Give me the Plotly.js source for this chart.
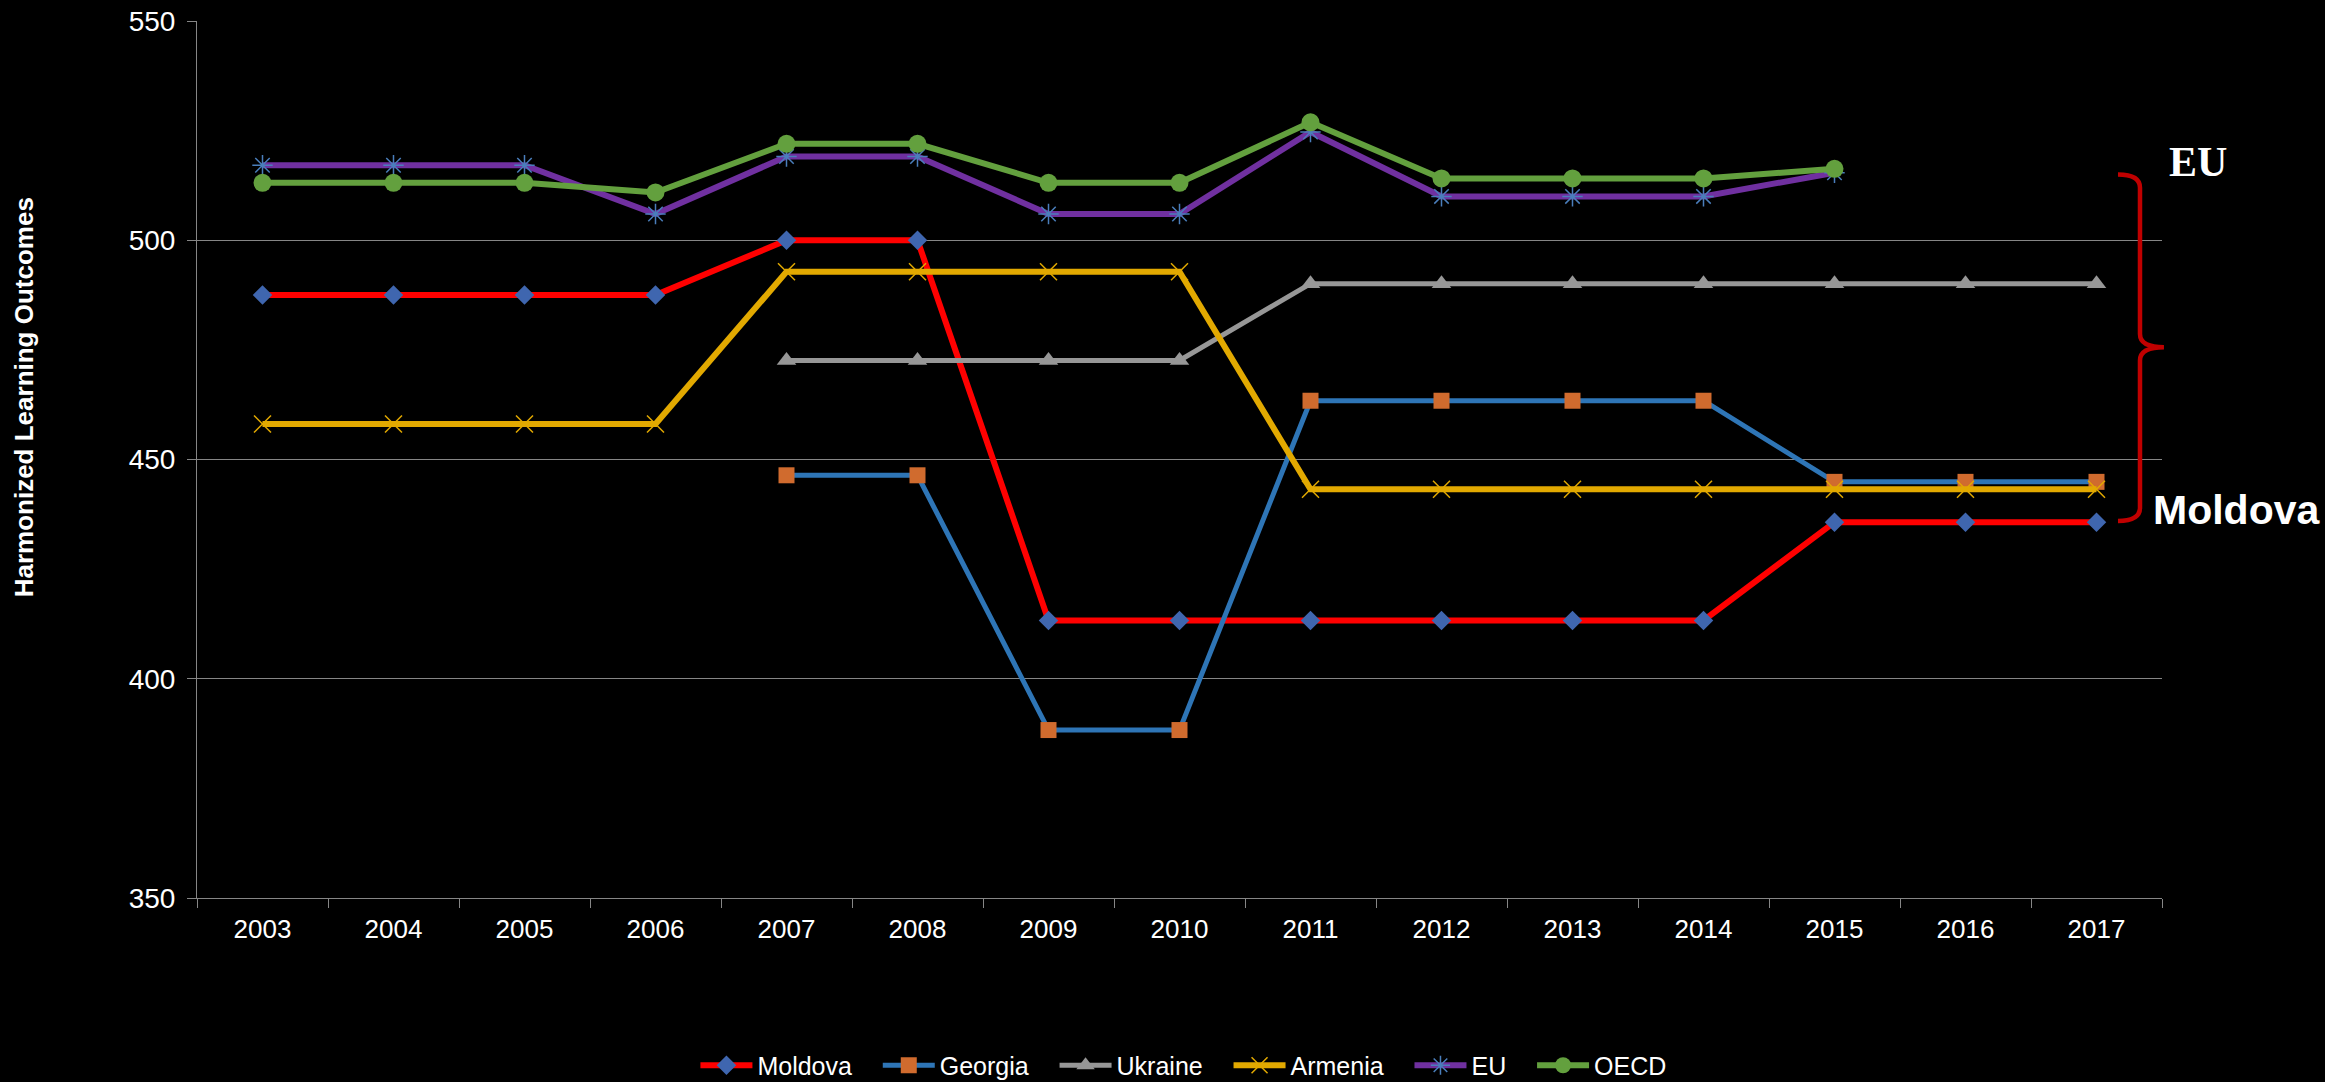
<!DOCTYPE html>
<html>
<head>
<meta charset="utf-8">
<script src="https://cdn.plot.ly/plotly-3.0.1.min.js"></script>
<style>
  html, body { margin: 0; padding: 0; background: #000000; }
  #chart { width: 2325px; height: 1082px; }
</style>
</head>
<body>
<div id="chart"></div>
<script>
const years = ['2003','2004','2005','2006','2007','2008','2009','2010','2011','2012','2013','2014','2015','2016','2017'];
const moldova = [487.5,487.5,487.5,487.5,500,500,413.3,413.3,413.3,413.3,413.3,413.3,435.7,435.7,435.7];
const georgia = [null,null,null,null,446.4,446.4,388.3,388.3,463.4,463.4,463.4,463.4,444.9,444.9,444.9];
const ukraine = [null,null,null,null,472.6,472.6,472.6,472.6,490.1,490.1,490.1,490.1,490.1,490.1,490.1];
const armenia = [458.1,458.1,458.1,458.1,492.8,492.8,492.8,492.8,443.2,443.2,443.2,443.2,443.2,443.2,443.2];
const eu      = [517.1,517.1,517.1,506.0,519.1,519.1,506.0,506.0,524.7,510.0,510.0,510.0,515.4,null,null];
const oecd    = [513.1,513.1,513.1,510.9,522.0,522.0,513.1,513.1,526.9,514.1,514.1,514.1,516.3,null,null];
const seriesNames = ['Moldova','Georgia','Ukraine','Armenia','EU','OECD'];
const yTicks  = [350, 400, 450, 500, 550];
const yTitle  = 'Harmonized Learning Outcomes';
const bracketTop = 515, bracketMid = 475.6, bracketBottom = 436;

const FONT = '"Liberation Sans", Arial, sans-serif';
const PAD = '\u00A0\u00A0\u00A0';

function tr(i, y, lineColor, lw, symbol, msize, mcolor, mline, mlw) {
  const nm = seriesNames[i] + (i < seriesNames.length - 1 ? PAD : '');
  return {
    type: 'scatter', mode: 'lines+markers', name: nm, x: years, y: y,
    connectgaps: false,
    line: {color: lineColor, width: lw},
    marker: {symbol: symbol, size: msize, color: mcolor,
             line: {color: mline, width: mlw}}
  };
}

const data = [
  tr(0, moldova, '#FF0000', 6, 'diamond', 15, '#3F66AF', '#3F66AF', 0),
  tr(1, georgia, '#2E75B6', 5, 'square', 16, '#D06B2E', '#D06B2E', 0),
  tr(2, ukraine, '#979797', 5, 'triangle-up', 17, '#979797', '#979797', 0),
  tr(3, armenia, '#E2A900', 6, 'x-thin-open', 17, '#E2A900', '#E2A900', 1.5),
  tr(4, eu, '#7030A0', 6, 'asterisk-open', 17, '#4A7EBB', '#4A7EBB', 1.5),
  tr(5, oecd, '#63A03E', 6, 'circle', 18, '#63A03E', '#63A03E', 0)
];

const bx0 = 0.9776, bx1 = 0.9888, bx2 = 1.0010;
const bracketPath =
  `M ${bx0},${bracketTop} Q ${bx1},${bracketTop} ${bx1},${bracketTop-3} ` +
  `L ${bx1},${bracketMid+3} Q ${bx1},${bracketMid} ${bx2},${bracketMid} ` +
  `Q ${bx1},${bracketMid} ${bx1},${bracketMid-3} ` +
  `L ${bx1},${bracketBottom+3} Q ${bx1},${bracketBottom} ${bx0},${bracketBottom}`;

const layout = {
  width: 2325, height: 1082,
  paper_bgcolor: '#000000', plot_bgcolor: '#000000',
  margin: {l: 197, r: 163, t: 21, b: 184, autoexpand: false},
  font: {family: FONT, color: '#FFFFFF'},
  showlegend: true,
  legend: {
    orientation: 'h', x: 0.502, xanchor: 'center', y: -0.191, yanchor: 'middle',
    font: {family: FONT, size: 25, color: '#FFFFFF'},
    itemwidth: 52, bgcolor: 'rgba(0,0,0,0)', traceorder: 'normal'
  },
  xaxis: {
    type: 'category', range: [-0.5, 14.5],
    tickson: 'boundaries', ticks: 'outside', ticklen: 9, tickcolor: '#868686', tickwidth: 1,
    showgrid: false, showline: true, linecolor: '#868686', linewidth: 1,
    tickfont: {family: FONT, size: 26, color: '#FFFFFF'},
    ticklabelstandoff: 8, zeroline: false, fixedrange: true
  },
  yaxis: {
    range: [350, 550], tickvals: yTicks, ticktext: yTicks.map(String),
    ticks: 'outside', ticklen: 9, tickcolor: '#868686', tickwidth: 1,
    showgrid: true, gridcolor: '#868686', gridwidth: 1,
    showline: true, linecolor: '#868686', linewidth: 1,
    tickfont: {family: FONT, size: 28, color: '#FFFFFF'},
    ticklabelstandoff: 6, zeroline: false, fixedrange: true
  },
  shapes: [
    {type: 'path', xref: 'paper', yref: 'y', path: bracketPath,
     line: {color: '#C00000', width: 4.5}, layer: 'above'}
  ],
  annotations: [
    {text: yTitle, xref: 'paper', yref: 'paper', x: -0.088, y: 0.571,
     textangle: -90, showarrow: false, xanchor: 'center', yanchor: 'middle',
     font: {family: FONT, size: 26, color: '#FFFFFF', weight: 'bold'}},
    {text: '<b>EU</b>', xref: 'paper', yref: 'paper', x: 1.0183, y: 0.839,
     showarrow: false, xanchor: 'center', yanchor: 'middle',
     font: {family: '"Liberation Serif", "Times New Roman", serif', size: 42, color: '#FFFFFF'}},
    {text: '<b>Moldova</b>', xref: 'paper', yref: 'paper', x: 1.0377, y: 0.4424,
     showarrow: false, xanchor: 'center', yanchor: 'middle',
     font: {family: FONT, size: 41, color: '#FFFFFF'}}
  ]
};

Plotly.newPlot('chart', data, layout, {displayModeBar: false, staticPlot: true});
</script>
</body>
</html>
